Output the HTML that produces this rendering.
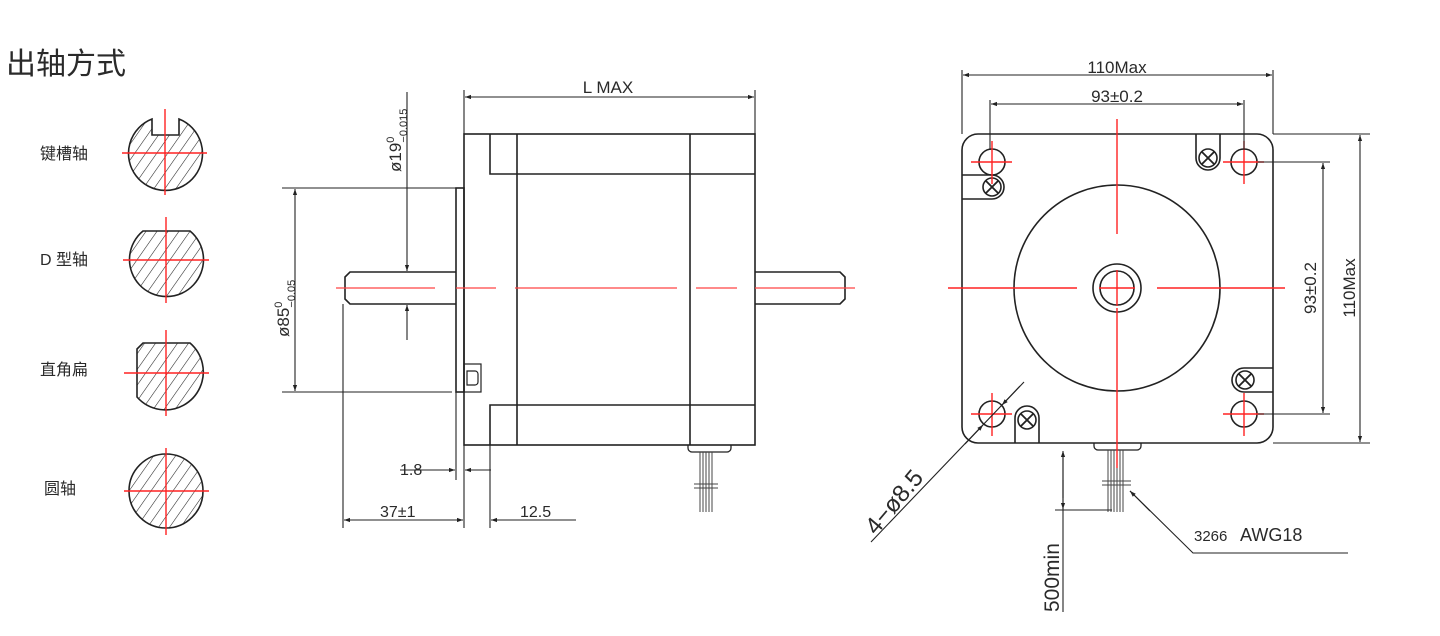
<!DOCTYPE html>
<html><head><meta charset="utf-8"><style>
html,body{margin:0;padding:0;background:#fff;width:1440px;height:636px;overflow:hidden}
svg text{font-family:"Liberation Sans","Noto Sans CJK SC",sans-serif;fill:#2a2a2a}
</style></head><body>
<svg width="1440" height="636" viewBox="0 0 1440 636" xmlns="http://www.w3.org/2000/svg">
<defs>
<pattern id="h" patternUnits="userSpaceOnUse" width="9" height="9" patternTransform="rotate(35)">
<line x1="0" y1="0" x2="0" y2="9" stroke="#222" stroke-width="1.1"/></pattern>
<marker id="a" viewBox="0 0 10 10" refX="10" refY="5" markerWidth="10" markerHeight="6" orient="auto-start-reverse" markerUnits="userSpaceOnUse"><path d="M0,1.5L10,5L0,8.5z" fill="#222"/></marker>
</defs>

<text x="6" y="74" font-size="30" font-family="Noto Sans CJK SC">出轴方式</text>
<g font-size="16" font-family="Noto Sans CJK SC">
<text x="40" y="159">键槽轴</text>
<text x="40" y="265">D 型轴</text>
<text x="40" y="375">直角扁</text>
<text x="44" y="494">圆轴</text>
</g>

<g stroke="#222" stroke-width="1.6">
<path d="M152,119 L152,135 L179,135 L179,119 A37,37 0 1 1 152,119Z" fill="url(#h)"/>
<path d="M143,231 L190,231 A37,37 0 1 1 143,231Z" fill="url(#h)"/>
<path d="M143,343 L190,343 A38,38 0 0 1 160,409.5 A38,38 0 0 1 137,397 L137,349 Z" fill="url(#h)"/>
<circle cx="166" cy="491" r="37" fill="url(#h)"/>
</g>
<g stroke="#f22" stroke-width="1.4">
<line x1="122" y1="153" x2="207" y2="153"/><line x1="165" y1="109" x2="165" y2="195"/>
<line x1="123" y1="260" x2="209" y2="260"/><line x1="166" y1="217" x2="166" y2="303"/>
<line x1="124" y1="373" x2="209" y2="373"/><line x1="166" y1="330" x2="166" y2="416"/>
<line x1="124" y1="491" x2="209" y2="491"/><line x1="166" y1="448" x2="166" y2="535"/>
</g>

<!-- SIDE VIEW -->
<g stroke="#222" stroke-width="1.6" fill="none">
<rect x="464" y="134" width="291" height="311"/>
<line x1="517" y1="134" x2="517" y2="445"/>
<line x1="690" y1="134" x2="690" y2="445"/>
<polyline points="490,134 490,174 755,174"/>
<polyline points="490,445 490,405 755,405"/>
<rect x="456" y="188" width="8" height="204"/>
<rect x="464" y="364" width="17" height="28" stroke-width="1.2"/>
<path d="M467,371 h8 a3,3 0 0 1 3,3 v8 a3,3 0 0 1 -3,3 h-8 z" stroke-width="1.2"/>
<path d="M456,272 L350,272 L345,277 L345,299 L350,304 L456,304" />
<path d="M755,272 L840,272 L845,277 L845,299 L840,304 L755,304"/>
<path d="M688,445 v3 a4,4 0 0 0 4,4 h35 a4,4 0 0 0 4,-4 v-3" stroke-width="1.3"/>
</g>
<g stroke="#444" stroke-width="1">
<line x1="700" y1="452" x2="700" y2="512"/><line x1="703" y1="452" x2="703" y2="512"/><line x1="706" y1="452" x2="706" y2="512"/><line x1="709" y1="452" x2="709" y2="512"/><line x1="712" y1="452" x2="712" y2="512"/>
<line x1="694" y1="484" x2="718" y2="484"/><line x1="694" y1="488" x2="718" y2="488"/>
</g>
<g stroke="#f44" stroke-width="1.3">
<line x1="336" y1="288" x2="435" y2="288"/><line x1="456" y1="288" x2="496" y2="288"/>
<line x1="515" y1="288" x2="677" y2="288"/><line x1="696" y1="288" x2="737" y2="288"/>
<line x1="755" y1="288" x2="855" y2="288"/>
</g>
<g stroke="#222" stroke-width="1.1" fill="none">
<line x1="464" y1="90" x2="464" y2="134"/><line x1="755" y1="90" x2="755" y2="134"/>
<line x1="465" y1="97" x2="754" y2="97" marker-start="url(#a)" marker-end="url(#a)"/>
<line x1="407" y1="92" x2="407" y2="271" marker-end="url(#a)"/>
<line x1="407" y1="340" x2="407" y2="305" marker-end="url(#a)"/>
<line x1="282" y1="188" x2="456" y2="188"/><line x1="282" y1="392" x2="452" y2="392"/>
<line x1="295" y1="189" x2="295" y2="391" marker-start="url(#a)" marker-end="url(#a)"/>
<line x1="343" y1="304" x2="343" y2="528"/>
<line x1="456" y1="392" x2="456" y2="480"/>
<line x1="464" y1="445" x2="464" y2="528"/>
<line x1="490" y1="445" x2="490" y2="528"/>
<line x1="400" y1="470" x2="455" y2="470" marker-end="url(#a)"/>
<line x1="491" y1="470" x2="465" y2="470" marker-end="url(#a)"/>
<line x1="344" y1="520" x2="463" y2="520" marker-start="url(#a)" marker-end="url(#a)"/>
<line x1="576" y1="520" x2="491" y2="520" marker-end="url(#a)"/>
</g>
<g font-size="17">
<text x="608" y="93" text-anchor="middle">L  MAX</text>
<text x="400" y="475" font-size="16">1.8</text>
<text x="380" y="517" font-size="16">37±1</text>
<text x="520" y="517" font-size="16">12.5</text>
<text transform="translate(401,172) rotate(-90)" font-size="17">ø19<tspan font-size="11" dy="-7">0</tspan><tspan font-size="11" dy="13" dx="-6">−0.015</tspan></text>
<text transform="translate(289,337) rotate(-90)" font-size="17">ø85<tspan font-size="11" dy="-7">0</tspan><tspan font-size="11" dy="13" dx="-6">−0.05</tspan></text>
</g>

<!-- FRONT VIEW -->
<g stroke="#222" stroke-width="1.6" fill="none">
<rect x="962" y="134" width="311" height="309" rx="16"/>
<circle cx="1117" cy="288" r="103"/>
<circle cx="1117" cy="288" r="24"/>
<circle cx="1117" cy="288" r="17"/>
<circle cx="992" cy="162" r="13"/><circle cx="1244" cy="162" r="13"/>
<circle cx="992" cy="414" r="13"/><circle cx="1244" cy="414" r="13"/>
<path d="M962,175 H992 A12,12 0 0 1 992,199 H962"/>
<circle cx="992" cy="187" r="9"/>
<path d="M1196,134 V158 A12,12 0 0 0 1220,158 V134"/>
<circle cx="1208" cy="158" r="9"/>
<path d="M1273,368 H1244 A12,12 0 0 0 1244,392 H1273"/>
<circle cx="1245" cy="380" r="9"/>
<path d="M1015,443 V418 A12,12 0 0 1 1039,418 V443"/>
<circle cx="1027" cy="420" r="9"/>
<path d="M1094,443 v3 a4,4 0 0 0 4,4 h39 a4,4 0 0 0 4,-4 v-3" stroke-width="1.3"/>
</g>
<g stroke="#222" stroke-width="1.8">
<path d="M986,181 l12,12 M998,181 l-12,12"/>
<path d="M1202,152 l12,12 M1214,152 l-12,12"/>
<path d="M1239,374 l12,12 M1251,374 l-12,12"/>
<path d="M1021,414 l12,12 M1033,414 l-12,12"/>
</g>
<g stroke="#444" stroke-width="1">
<line x1="1108" y1="450" x2="1108" y2="512"/><line x1="1111" y1="450" x2="1111" y2="512"/><line x1="1114" y1="450" x2="1114" y2="512"/><line x1="1117" y1="450" x2="1117" y2="512"/><line x1="1120" y1="450" x2="1120" y2="512"/><line x1="1123" y1="450" x2="1123" y2="512"/>
<line x1="1102" y1="481" x2="1131" y2="481"/><line x1="1102" y1="485" x2="1131" y2="485"/>
</g>
<g stroke="#f22" stroke-width="1.4">
<line x1="1117" y1="119" x2="1117" y2="234"/><line x1="1117" y1="308" x2="1117" y2="468"/>
<line x1="1117" y1="270" x2="1117" y2="306"/><line x1="1099" y1="288" x2="1135" y2="288"/>
<line x1="948" y1="288" x2="1077" y2="288"/><line x1="1157" y1="288" x2="1285" y2="288"/>
<line x1="971" y1="162" x2="1012" y2="162"/><line x1="992" y1="141" x2="992" y2="184"/>
<line x1="1223" y1="162" x2="1264" y2="162"/><line x1="1244" y1="141" x2="1244" y2="184"/>
<line x1="971" y1="414" x2="1012" y2="414"/><line x1="992" y1="393" x2="992" y2="436"/>
<line x1="1223" y1="414" x2="1264" y2="414"/><line x1="1244" y1="393" x2="1244" y2="436"/>
</g>
<g stroke="#222" stroke-width="1.1" fill="none">
<line x1="962" y1="70" x2="962" y2="134"/><line x1="1273" y1="70" x2="1273" y2="134"/>
<line x1="963" y1="75" x2="1272" y2="75" marker-start="url(#a)" marker-end="url(#a)"/>
<line x1="990" y1="100" x2="990" y2="150"/><line x1="1244" y1="100" x2="1244" y2="150"/>
<line x1="991" y1="104" x2="1243" y2="104" marker-start="url(#a)" marker-end="url(#a)"/>
<line x1="1258" y1="162" x2="1330" y2="162"/><line x1="1258" y1="414" x2="1330" y2="414"/>
<line x1="1323" y1="163" x2="1323" y2="413" marker-start="url(#a)" marker-end="url(#a)"/>
<line x1="1273" y1="134" x2="1370" y2="134"/><line x1="1273" y1="443" x2="1370" y2="443"/>
<line x1="1360" y1="135" x2="1360" y2="442" marker-start="url(#a)" marker-end="url(#a)"/>
<line x1="1063" y1="452" x2="1063" y2="612"/>
<line x1="1063" y1="498" x2="1063" y2="451" marker-end="url(#a)"/>
<line x1="1063" y1="480" x2="1063" y2="509" marker-end="url(#a)"/>
<line x1="1055" y1="510" x2="1112" y2="510"/>
<polyline points="1348,553 1193,553 1130,491" />
<line x1="1150" y1="511" x2="1130" y2="491" marker-end="url(#a)"/>
<line x1="871" y1="542" x2="1024" y2="382"/>
<line x1="965" y1="444" x2="983" y2="425" marker-end="url(#a)"/>
<line x1="1020" y1="386" x2="1002" y2="405" marker-end="url(#a)"/>
</g>
<g font-size="17">
<text x="1117" y="73" text-anchor="middle">110Max</text>
<text x="1117" y="102" text-anchor="middle">93±0.2</text>
<text transform="translate(1316,288) rotate(-90)" text-anchor="middle">93±0.2</text>
<text transform="translate(1355,288) rotate(-90)" text-anchor="middle">110Max</text>
<text transform="translate(1059,612) rotate(-90)" font-size="21">500min</text>
<text transform="translate(876,536) rotate(-50)" font-size="24">4−ø8.5</text>
<text x="1194" y="541" font-size="15" font-family="Liberation Serif">3266</text>
<text x="1240" y="541" font-size="18">AWG18</text>
</g>
</svg>
</body></html>
